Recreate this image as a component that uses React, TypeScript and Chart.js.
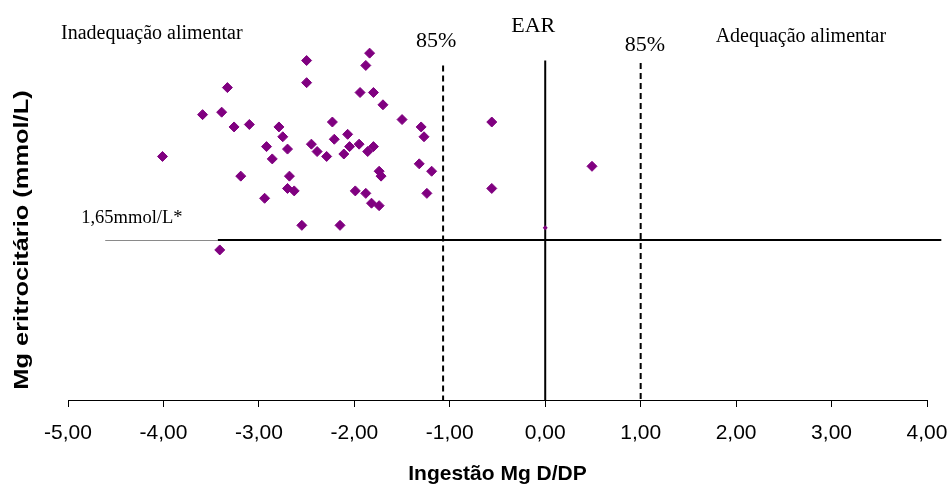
import { useEffect, useRef } from 'react';
import { Chart, registerables } from 'chart.js';

Chart.register(...registerables);

// Z-score of magnesium intake (D/DP) for each subject
const ingestaoZ = [
  -4.01, -3.59, -3.39, -3.33, -3.26, -3.10, -3.19, -2.94, -2.92, -2.86,
  -2.79, -2.75, -2.70, -2.68, -2.70, -2.63, -2.50, -2.50, -2.55, -2.45,
  -2.39, -2.29, -2.23, -2.21, -2.15, -2.11, -2.07, -2.05, -1.99, -1.95,
  -1.94, -1.88, -1.84, -1.88, -1.86, -1.80, -1.80, -1.82, -1.74, -1.74,
  -1.72, -1.70, -1.50, -1.30, -1.27, -1.32, -1.19, -1.24, -3.41, -0.56,
  -0.56, 0.49,
];

// Erythrocyte magnesium (mmol/L) for the same subjects
const mgEritrocitario = [
  1.99, 2.16, 2.17, 2.27, 2.11, 2.12, 1.91, 1.82, 2.03, 1.98,
  2.11, 2.07, 2.02, 1.91, 1.86, 1.85, 2.38, 2.29, 1.71, 2.04,
  2.01, 1.99, 2.13, 2.06, 1.71, 2.00, 2.08, 2.03, 1.85, 2.04,
  2.25, 2.36, 2.41, 1.84, 2.01, 2.03, 2.25, 1.80, 1.79, 1.93,
  1.91, 2.20, 2.14, 2.11, 2.07, 1.96, 1.93, 1.84, 1.61, 2.13,
  1.86, 1.95,
];

// Marker sitting on the EAR line
const earMarkX = [0];
const earMarkY = [1.70];

const xTicks = [-5, -4, -3, -2, -1, 0, 1, 2, 3, 4];

// Reference values
const cutoffMg = 1.65;
const earZ = 0;
const lowerZ = -1.07;
const upperZ = 1.0;
const guideTop = [2.36, 2.38, 2.37]; // lower 85%, EAR, upper 85%
const cutoffStartGrey = -4.61;
const cutoffStartBlack = -3.43;
const cutoffEnd = 4.15;

const purple = '#800080';
const sans = '"Liberation Sans", Arial, sans-serif';
const serif = '"Liberation Serif", "Times New Roman", serif';

const guidesPlugin = {
  id: 'guides',
  beforeDatasetsDraw(chart: any) {
    const { ctx, scales } = chart;
    const x = scales.x;
    const y = scales.y;
    const yBottom = y.getPixelForValue(y.min);
    ctx.save();
    ctx.lineCap = 'butt';

    // cut-off line for erythrocyte Mg
    const yc = Math.round(y.getPixelForValue(cutoffMg)) + 0.5;
    ctx.lineWidth = 1;
    ctx.strokeStyle = '#8a8a8a';
    ctx.beginPath();
    ctx.moveTo(x.getPixelForValue(cutoffStartGrey), yc);
    ctx.lineTo(x.getPixelForValue(cutoffStartBlack), yc);
    ctx.stroke();
    ctx.strokeStyle = '#000';
    ctx.lineWidth = 2;
    ctx.beginPath();
    ctx.moveTo(x.getPixelForValue(cutoffStartBlack), yc - 0.5);
    ctx.lineTo(x.getPixelForValue(cutoffEnd), yc - 0.5);
    ctx.stroke();

    // EAR line
    ctx.lineWidth = 2;
    ctx.beginPath();
    const xe = x.getPixelForValue(earZ);
    ctx.moveTo(xe, y.getPixelForValue(guideTop[1]));
    ctx.lineTo(xe, yBottom);
    ctx.stroke();

    // 85% lines
    ctx.setLineDash([6, 4]);
    [[lowerZ, guideTop[0]], [upperZ, guideTop[2]]].forEach(([v, t]) => {
      const px = x.getPixelForValue(v);
      ctx.beginPath();
      ctx.moveTo(px, y.getPixelForValue(t));
      ctx.lineTo(px, yBottom);
      ctx.stroke();
    });
    ctx.restore();
  },
  afterDraw(chart: any) {
    const { ctx, scales, chartArea } = chart;
    const x = scales.x;
    const y = scales.y;
    ctx.save();
    ctx.fillStyle = '#000';
    ctx.textBaseline = 'alphabetic';
    ctx.textAlign = 'left';

    ctx.font = `20px ${serif}`;
    ctx.fillText('Inadequação alimentar', chartArea.left - 7, 39);
    ctx.fillText('Adequação alimentar', x.getPixelForValue(upperZ) + 75, 42);

    ctx.font = `22px ${serif}`;
    ctx.fillText('85%', x.getPixelForValue(lowerZ) - 27, 46.5);
    ctx.fillText('EAR', x.getPixelForValue(earZ) - 34, 31.5);
    ctx.fillText('85%', x.getPixelForValue(upperZ) - 16, 50.5);

    ctx.font = `18.5px ${serif}`;
    ctx.fillText('1,65mmol/L*', x.getPixelForValue(cutoffStartGrey) - 24, y.getPixelForValue(cutoffMg) - 17);

    // vertical axis title
    ctx.font = `bold 21px ${sans}`;
    ctx.textAlign = 'center';
    ctx.translate(28, 240);
    ctx.rotate(-Math.PI / 2);
    ctx.scale(1.21, 1);
    ctx.fillText('Mg eritrocitário (mmol/L)', 0, 0);
    ctx.restore();
  },
};

export default function App() {
  const canvasRef = useRef<HTMLCanvasElement | null>(null);

  useEffect(() => {
    if (!canvasRef.current) return;
    const chart = new Chart(canvasRef.current, {
      type: 'scatter',
      data: {
        datasets: [
          {
            label: 'Mg',
            data: ingestaoZ.map((v, i) => ({ x: v, y: mgEritrocitario[i] })),
            pointStyle: 'rectRot',
            pointRadius: 5,
            pointHoverRadius: 5,
            backgroundColor: purple,
            borderColor: purple,
            borderWidth: 1,
          },
          {
            label: 'EAR',
            data: earMarkX.map((v, i) => ({ x: v, y: earMarkY[i] })),
            pointStyle: 'rectRot',
            pointRadius: 2.5,
            backgroundColor: purple,
            borderColor: purple,
            borderWidth: 0,
          },
        ],
      },
      options: {
        animation: false,
        responsive: false,
        maintainAspectRatio: false,
        devicePixelRatio: 1,
        clip: false,
        layout: { padding: { left: 68, right: 24, top: 31, bottom: 0 } },
        plugins: {
          legend: { display: false },
          tooltip: { enabled: false },
        },
        scales: {
          x: {
            type: 'linear',
            min: -5,
            max: 4,
            afterBuildTicks: (s: any) => {
              s.ticks = xTicks.map((v) => ({ value: v }));
            },
            afterFit: (s: any) => {
              s.height = 87;
              s.paddingLeft = 0;
              s.paddingRight = 0;
            },
            ticks: {
              autoSkip: false,
              maxRotation: 0,
              padding: 14,
              color: '#000',
              font: { family: sans, size: 21 },
              callback: (v: any) => Number(v).toFixed(2).replace('.', ','),
            },
            grid: {
              drawOnChartArea: false,
              drawTicks: true,
              tickLength: 7,
              tickColor: '#000',
              color: '#000',
            },
            border: { display: true, color: '#000', width: 1 },
            title: {
              display: true,
              text: 'Ingestão Mg D/DP',
              color: '#000',
              font: { family: sans, size: 21, weight: 'bold' },
              padding: { top: 0, bottom: 0 },
            },
          },
          y: {
            type: 'linear',
            min: 1.0,
            max: 2.5,
            display: false,
          },
        },
      },
      plugins: [guidesPlugin],
    });
    return () => chart.destroy();
  }, []);

  return (
    <div style={{ position: 'fixed', left: 0, top: 0, width: 951, height: 487, background: '#fff' }}>
      <canvas ref={canvasRef} width={951} height={487} style={{ width: 951, height: 487 }} />
    </div>
  );
}
